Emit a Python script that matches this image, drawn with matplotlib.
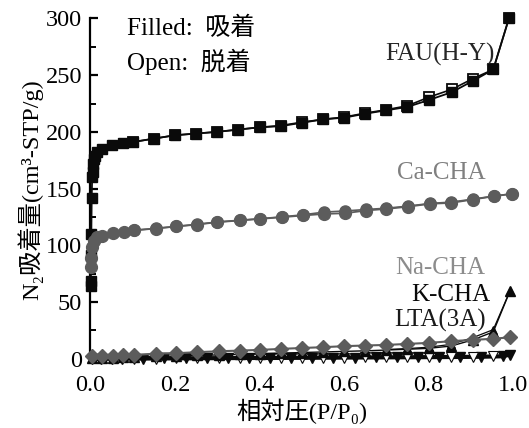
import matplotlib
matplotlib.use("Agg")
import matplotlib.pyplot as plt
from matplotlib.ticker import MultipleLocator

plt.rcParams["font.family"] = ["Liberation Serif", "Noto Sans CJK JP", "DejaVu Serif"]

# FAU(H-Y)
fau_x_ads = [0.0005, 0.001, 0.0015, 0.002, 0.003, 0.004, 0.005, 0.006, 0.008, 0.01,
             0.015, 0.028, 0.052, 0.078, 0.10, 0.15, 0.20, 0.25, 0.30, 0.35, 0.40,
             0.45, 0.50, 0.55, 0.60, 0.65, 0.70, 0.75, 0.80, 0.855, 0.905, 0.953, 0.99]
fau_y_ads = [64, 68, 91, 110, 142, 160, 165, 172, 176, 179,
             182, 185, 188, 190, 191, 194, 197, 198.5, 200, 202, 204,
             205, 208, 211, 212.5, 216, 219, 222, 228, 235, 245, 255, 300]
fau_x_des = [0.99, 0.953, 0.905, 0.855, 0.80, 0.75, 0.70, 0.65, 0.60, 0.55, 0.50,
             0.45, 0.40, 0.35, 0.30, 0.25, 0.20, 0.15, 0.10]
fau_y_des = [300, 255, 247, 237.5, 230.5, 223, 219.5, 216.5, 213, 211, 208.5,
             205.5, 204, 202, 200, 198.5, 197, 194, 191]

# Ca-CHA
ca_x_ads = [0.001, 0.002, 0.004, 0.008, 0.015, 0.028, 0.054, 0.079, 0.102, 0.154,
            0.203, 0.252, 0.30, 0.353, 0.402, 0.453, 0.503, 0.553, 0.603, 0.652,
            0.70, 0.752, 0.803, 0.853, 0.905, 0.955, 0.997]
ca_y_ads = [81, 89, 98, 104, 107, 108.5, 110.6, 112, 113, 114.7,
            116.5, 118.2, 120.3, 121.8, 123.2, 124.7, 126.2, 127.6, 128.2, 130.6,
            132, 134, 136.5, 137.3, 140.3, 143.2, 145.3]
ca_x_des = [0.997, 0.955, 0.905, 0.853, 0.803, 0.752, 0.70, 0.652, 0.603, 0.553,
            0.503, 0.453, 0.402, 0.353, 0.30, 0.252, 0.203, 0.154, 0.102]
ca_y_des = [145.3, 143.4, 140.6, 138, 136.8, 134.5, 132.6, 131.5, 130.2, 129.2,
            126.8, 125, 123.4, 122, 120.5, 118.4, 116.6, 114.8, 113.2]

# Na-CHA
na_x = [0.003, 0.028, 0.054, 0.078, 0.104, 0.154, 0.203, 0.253, 0.303, 0.353,
        0.40, 0.45, 0.50, 0.55, 0.60, 0.65, 0.70, 0.75, 0.80, 0.853, 0.905, 0.953, 0.993]
na_y = [2.0, 2.6, 2.6, 2.8, 3.0, 4.4, 4.7, 5.6, 6.4, 7.0,
        7.6, 8.5, 9.3, 10.0, 10.9, 11.5, 12.0, 12.9, 13.8, 15.3, 16.5, 17.4, 18.8]

# K-CHA
k_x_ads = [0.003, 0.028, 0.054, 0.078, 0.104, 0.154, 0.203, 0.253, 0.303, 0.353,
           0.40, 0.45, 0.50, 0.55, 0.60, 0.65, 0.70, 0.75, 0.80, 0.853, 0.905, 0.953, 0.993]
k_y_ads = [0.3, 0.6, 0.8, 1.0, 1.2, 1.8, 2.2, 2.7, 3.2, 3.7,
           4.2, 4.8, 5.3, 5.8, 6.3, 6.8, 7.5, 8.2, 9.0, 11.0, 16.5, 23.5, 60]
k_x_des = [0.993, 0.953, 0.905, 0.853, 0.80, 0.75, 0.70]
k_y_des = [60, 25.5, 18.5, 12.5, 10, 8.8, 8.0]

# LTA(3A)
lta_x_ads = [0.003, 0.025, 0.05, 0.075, 0.125, 0.175, 0.225, 0.275, 0.325, 0.375,
             0.425, 0.475, 0.525, 0.575, 0.625, 0.675, 0.725, 0.775, 0.825, 0.875,
             0.925, 0.975, 0.993]
lta_y_ads = [-0.5, -0.3, -0.2, -0.1, 0.0, 0.1, 0.2, 0.3, 0.4, 0.5,
             0.5, 0.6, 0.7, 0.8, 0.9, 1.0, 1.1, 1.2, 1.3, 1.4,
             1.6, 2.0, 3.5]
lta_x_des = [0.953, 0.905, 0.853, 0.80, 0.75, 0.70, 0.65, 0.60, 0.55, 0.50,
             0.45, 0.40, 0.353, 0.303, 0.253, 0.203, 0.154, 0.104]
lta_y_des = [1.8, 1.6, 1.4, 1.3, 1.2, 1.1, 1.0, 0.9, 0.8, 0.7,
             0.6, 0.5, 0.4, 0.3, 0.2, 0.1, 0.0, -0.1]

xticks = [0.0, 0.2, 0.4, 0.6, 0.8, 1.0]
yticks = [0, 50, 100, 150, 200, 250, 300]

black = "#0a0a0a"
gray = "#5c5c5c"

fig = plt.figure(figsize=(5.29, 4.28), dpi=100)
ax = fig.add_axes([0.171, 0.157, 0.799, 0.7998])

# FAU
ax.plot(fau_x_des, fau_y_des, color=black, lw=1.2, marker="s", ms=7,
        mfc="white", mec=black, mew=1.3, clip_on=False, zorder=3)
ax.plot(fau_x_ads, fau_y_ads, color=black, lw=1.3, marker="s", ms=7.5,
        mfc=black, mec=black, clip_on=False, zorder=4)

# Ca-CHA
ax.plot(ca_x_des, ca_y_des, color=gray, lw=1.2, marker="o", ms=8,
        mfc=gray, mec=gray, clip_on=False, zorder=3)
ax.plot(ca_x_ads, ca_y_ads, color=gray, lw=1.3, marker="o", ms=8.5,
        mfc=gray, mec=gray, clip_on=False, zorder=4)

# LTA(3A)
ax.plot(lta_x_ads, lta_y_ads, color=black, lw=3, marker="v", ms=7,
        mfc=black, mec=black, clip_on=False, zorder=3)
ax.plot(lta_x_des, lta_y_des, color=black, lw=0, marker="v", ms=6.5,
        mfc="white", mec=black, mew=0.8, clip_on=False, zorder=4)

# K-CHA
ax.plot(k_x_des, k_y_des, color=black, lw=0.9, marker="^", ms=6,
        mfc="white", mec=black, mew=0.8, clip_on=False, zorder=4)
ax.plot(k_x_ads, k_y_ads, color=black, lw=1.0, marker="^", ms=6.5,
        mfc=black, mec=black, clip_on=False, zorder=5)

# Na-CHA
ax.plot(na_x, na_y, color=gray, lw=1.5, marker="D", ms=7.5,
        mfc=gray, mec=gray, clip_on=False, zorder=6)

ax.set_xlim(0, 1.0)
ax.set_ylim(-2, 300)
ax.set_xticks(xticks)
ax.set_xticklabels([f"{t:.1f}" for t in xticks])
ax.set_yticks(yticks)
ax.yaxis.set_minor_locator(MultipleLocator(25))

for s in ["top", "right", "bottom"]:
    ax.spines[s].set_visible(False)
ax.spines["left"].set_linewidth(1.6)
ax.spines["left"].set_bounds(-2, 300)

ax.tick_params(axis="y", which="major", direction="in", length=6, width=1.6,
               labelsize=17.5, pad=6)
ax.tick_params(axis="y", which="minor", direction="in", length=4, width=1.4)
ax.tick_params(axis="x", length=0, labelsize=17.5, pad=10)

ax.set_xlabel("相対圧(P/P₀)", fontsize=17.5, labelpad=2)
ax.set_ylabel("N₂吸着量(cm³-STP/g)", fontsize=17.5, labelpad=2)

ax.text(0.087, 291.5, "Filled:  吸着", fontsize=18, va="center", ha="left")
ax.text(0.087, 261.5, "Open:  脱着", fontsize=18, va="center", ha="left")
ax.text(0.955, 268, "FAU(H-Y)", fontsize=18, va="center", ha="right", color="#262626")
ax.text(0.935, 164, "Ca-CHA", fontsize=18, va="center", ha="right", color="#808080")
ax.text(0.935, 80, "Na-CHA", fontsize=18, va="center", ha="right", color="#8c8c8c")
ax.text(0.945, 56, "K-CHA", fontsize=18, va="center", ha="right", color=black)
ax.text(0.935, 34, "LTA(3A)", fontsize=18, va="center", ha="right", color="#1a1a1a")

fig.savefig("out.png", dpi=100)
